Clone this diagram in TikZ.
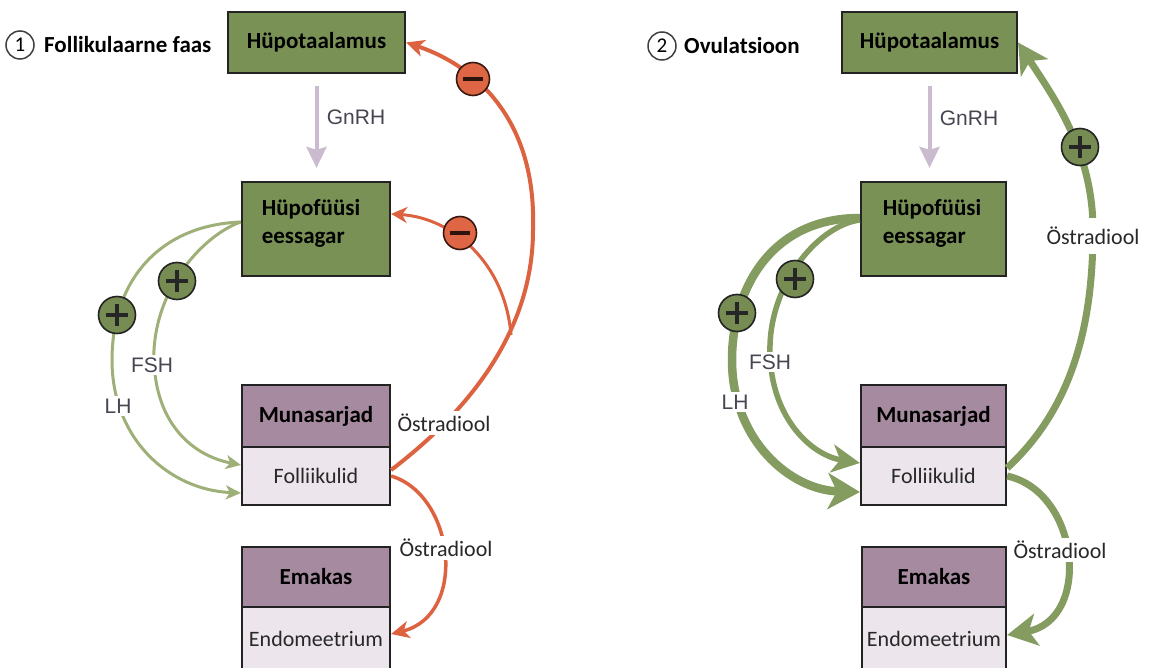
\documentclass[tikz,border=0pt]{standalone}
\usepackage{fontspec}
\setmainfont{Carlito}
\newfontfamily\arialfont{Liberation Sans}
\usetikzlibrary{arrows.meta}
\definecolor{boxgreen}{RGB}{122,145,86}
\definecolor{boxline}{RGB}{35,35,35}
\definecolor{headpurple}{RGB}{166,138,160}
\definecolor{lightlav}{RGB}{236,229,236}
\definecolor{orangeln}{RGB}{220,98,64}
\definecolor{minusfill}{RGB}{222,102,68}
\definecolor{greenthinc}{RGB}{158,176,120}
\definecolor{greenthickc}{RGB}{132,156,96}
\definecolor{plusfill}{RGB}{118,140,82}
\definecolor{gnrhcol}{RGB}{202,187,206}
\definecolor{textgray}{RGB}{70,70,82}
\definecolor{textdark}{RGB}{40,40,40}
\tikzset{greenbox/.style={draw=boxline, line width=2.2pt, fill=boxgreen,
  font=\fontsize{23}{28}\selectfont\bfseries, inner sep=0pt}}
\tikzset{purplebox/.style={draw=boxline, line width=2.2pt, fill=headpurple,
  font=\fontsize{23}{28}\selectfont\bfseries, inner sep=0pt, minimum height=60pt}}
\tikzset{lightbox/.style={draw=boxline, line width=2.2pt, fill=lightlav,
  font=\fontsize{22}{26}\selectfont, text=textdark, inner sep=0pt, minimum height=58pt}}
\tikzset{hormone/.style={font=\arialfont\fontsize{21}{24}\selectfont, text=textgray,
  fill=white, inner sep=3pt}}
\tikzset{ostr/.style={font=\fontsize{22}{26}\selectfont, text=textdark,
  fill=white, inner xsep=1pt, inner ysep=3pt}}
\tikzset{plussign/.style={circle, draw=boxline, line width=1.6pt, fill=plusfill,
  minimum size=37pt, inner sep=0pt,
  path picture={\draw[line width=3.2pt, draw=black!85]
    ([xshift=-11pt]path picture bounding box.center) -- ([xshift=11pt]path picture bounding box.center)
    ([yshift=-11pt]path picture bounding box.center) -- ([yshift=11pt]path picture bounding box.center);}}}
\tikzset{minussign/.style={circle, draw=black!75!orangeln, line width=1.6pt, fill=minusfill,
  minimum size=33pt, inner sep=0pt,
  path picture={\draw[line width=3.5pt, draw=black!80!orangeln]
    ([xshift=-10pt]path picture bounding box.center) -- ([xshift=10pt]path picture bounding box.center);}}}
\tikzset{numcirc/.style={circle, draw=black!75, line width=1.5pt, minimum size=28pt,
  inner sep=0pt, font=\fontsize{21}{22}\selectfont}}
\tikzset{titletext/.style={anchor=west, inner sep=0pt, font=\fontsize{23}{28}\selectfont\bfseries}}
\tikzset{gnrh/.style={draw=gnrhcol, line width=4pt, -{Stealth[length=21pt,width=20pt,inset=3pt]}}}
\tikzset{orangethick/.style={draw=orangeln, line width=4pt, -{Stealth[length=18pt,width=17pt,inset=5pt]}}}
\tikzset{orangethin/.style={draw=orangeln, line width=3pt, -{Stealth[length=16pt,width=16pt,inset=5pt]}}}
\tikzset{greenthin/.style={draw=greenthinc, line width=3pt, -{Stealth[length=15pt,width=14pt,inset=4pt]}}}
\tikzset{greenlh/.style={draw=greenthickc, line width=8.5pt, -{Stealth[length=32pt,width=36pt,inset=9pt]}}}
\tikzset{greenfsh/.style={draw=greenthickc, line width=5.5pt, -{Stealth[length=28pt,width=28pt,inset=8pt]}}}
\tikzset{greenost/.style={draw=greenthickc, line width=7pt, -{Stealth[length=30pt,width=32pt,inset=8pt]}}}

\begin{document}
\begin{tikzpicture}[x=1pt, y=-1pt]
\useasboundingbox (0,0) rectangle (1150,668);

% 1 follikulaarne faas
\node[numcirc] (num1) at (20,45) {1};
\node[titletext] (title1) at (44,45) {Follikulaarne faas};
\node[greenbox, minimum width=177pt, minimum height=61pt] (hyp1) at (316.5,42.5) {Hüpotaalamus};
\node[greenbox, minimum width=148pt, minimum height=94pt] (pit1) at (316,229) {};
\node[greenbox, draw=none, fill=none, align=left] (pit1txt) at (311,223) {Hüpofüüsi\\eessagar};
\node[purplebox, minimum width=148pt, minimum height=62pt] (mun1) at (316,416) {Munasarjad};
\node[lightbox, minimum width=148pt] (fol1) at (316,476) {Folliikulid};
\node[purplebox, minimum width=148pt] (emak1) at (316,577) {Emakas};
\node[lightbox, minimum width=148pt, minimum height=64pt] (endo1) at (316,639) {Endomeetrium};

\coordinate (top1) at (533,230);
\coordinate (split1) at (511,335);
\coordinate (lhl1) at (112,360);
\coordinate (fshl1) at (154,350);

\draw[gnrh, shorten <=12pt, shorten >=13pt] (hyp1.south) -- (hyp1.south |- pit1.north);
\draw[orangethick] ([yshift=6pt]fol1.east) .. controls (470,410) and (533,330) .. (top1)
  .. controls (537,110) and (465,62) .. (hyp1.east);
\draw[orangethin] (split1) .. controls (505,262) and (452,218) .. ([yshift=-33pt]pit1.north east);
\draw[orangethick, line width=3.5pt] (fol1.east) .. controls (455,495) and (468,615) .. ([yshift=5pt]endo1.east);
\draw[greenthin] ([yshift=7pt]pit1.west) .. controls (160,225) and (112,280) .. (lhl1)
  .. controls (112,440) and (170,490) .. ([yshift=-17pt]fol1.west);
\draw[greenthin] ([yshift=7pt]pit1.west) .. controls (210,232) and (158,280) .. (fshl1)
  .. controls (152,420) and (190,455) .. ([yshift=11pt]fol1.west);

\node[hormone, fill=none] (gnrh1) at (356,117) {GnRH};
\node[hormone] (fsh1) at (152,365) {FSH};
\node[hormone] (lh1) at (118,406) {LH};
\node[ostr] (ost1) at (444,423) {Östradiool};
\node[ostr] (ost1b) at (446,548) {Östradiool};
\node[minussign] (minus1) at (473,79) {};
\node[minussign] (minus1b) at (460,233) {};
\node[plussign] (plus1lh) at (117,315) {};
\node[plussign] (plus1fsh) at (177,281) {};

% 2 ovulatsioon
\node[numcirc] (num2) at (662,46) {2};
\node[titletext] (title2) at (684,46) {Ovulatsioon};
\node[greenbox, minimum width=175pt, minimum height=61pt] (hyp2) at (929.5,42.5) {Hüpotaalamus};
\node[greenbox, minimum width=145pt, minimum height=94pt] (pit2) at (933.5,229) {};
\node[greenbox, draw=none, fill=none, align=left] (pit2txt) at (932,223) {Hüpofüüsi\\eessagar};
\node[purplebox, minimum width=145pt, minimum height=62pt] (mun2) at (933.5,416) {Munasarjad};
\node[lightbox, minimum width=145pt] (fol2) at (933.5,476) {Folliikulid};
\node[purplebox, minimum width=144pt] (emak2) at (934,577) {Emakas};
\node[lightbox, minimum width=144pt, minimum height=64pt] (endo2) at (934,639) {Endomeetrium};

\coordinate (top2) at (1093,230);
\coordinate (lhl2) at (732,360);
\coordinate (fshl2) at (770,345);

\draw[gnrh, shorten <=12pt, shorten >=13pt] (hyp2.south) -- (hyp2.south |- pit2.north);
\draw[greenost] ([yshift=8pt]fol2.east) .. controls (1070,410) and (1093,330) .. (top2)
  .. controls (1093,150) and (1052,95) .. (hyp2.east);
\draw[greenost] (fol2.east) .. controls (1080,492) and (1092,620) .. ([yshift=4pt]endo2.east);
\draw[greenlh] ([yshift=11pt]pit2.west) .. controls (770,218) and (732,290) .. (lhl2)
  .. controls (732,440) and (790,490) .. ([yshift=-16pt]fol2.west);
\draw[greenfsh] ([yshift=9pt]pit2.west) .. controls (820,225) and (772,280) .. (fshl2)
  .. controls (768,415) and (810,455) .. ([yshift=13pt]fol2.west);

\node[hormone, fill=none] (gnrh2) at (969,118) {GnRH};
\node[hormone] (fsh2) at (770,362) {FSH};
\node[hormone] (lh2) at (735,402) {LH};
\node[ostr, inner ysep=9pt] (ost2) at (1093,236) {Östradiool};
\node[ostr] (ost2b) at (1060,550) {Östradiool};
\node[plussign] (plus2) at (1080,147) {};
\node[plussign] (plus2lh) at (737,313) {};
\node[plussign] (plus2fsh) at (795,279) {};
\end{tikzpicture}
\end{document}
